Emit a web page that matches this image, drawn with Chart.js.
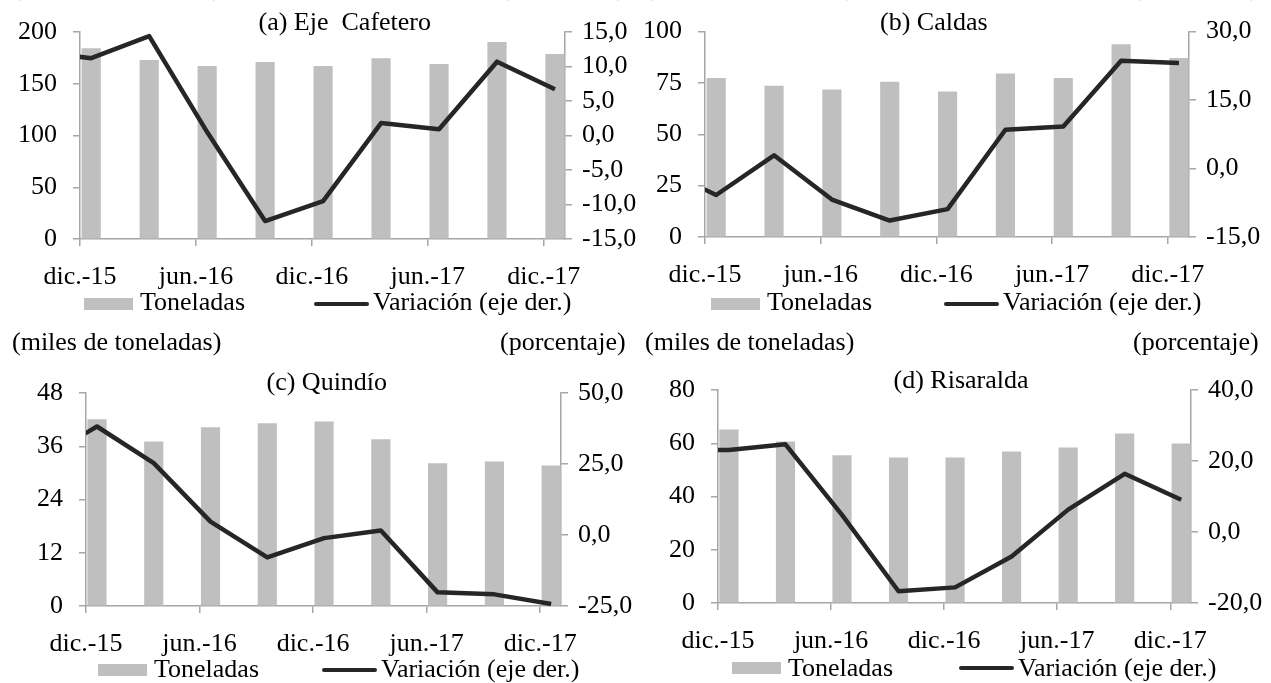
<!DOCTYPE html>
<html>
<head>
<meta charset="utf-8">
<script src="https://cdn.jsdelivr.net/npm/chart.js@4.4.1/dist/chart.umd.min.js"></script>
<style>
  html, body { margin: 0; padding: 0; background: #fff; }
  body { width: 1271px; height: 683px; position: relative; overflow: hidden;
         font-family: "Liberation Serif", "Times New Roman", serif; color: #000; }
  canvas { position: absolute; }
  .txt { position: absolute; font-size: 26px; line-height: 26px; white-space: pre; }
  .box { position: absolute; background: #bfbfbf; }
  .lin { position: absolute; background: #262626; border-radius: 2px; }
</style>
</head>
<body>
<script>
// ---------- DATA ----------
const quarters = ['dic.-15','mar.-16','jun.-16','sep.-16','dic.-16','mar.-17','jun.-17','sep.-17','dic.-17'];
const xTickLabels = ['dic.-15','jun.-16','dic.-16','jun.-17','dic.-17'];

const titles = ['(a) Eje  Cafetero', '(b) Caldas', '(c) Quindío', '(d) Risaralda'];
const seriesNames = ['Toneladas', 'Variación (eje der.)'];
const unitLeft = '(miles de toneladas)';
const unitRight = '(porcentaje)';

const tonEje   = [183.9, 172.6, 166.8, 170.6, 166.8, 174.2, 168.7, 190.0, 178.4];
const varEje   = [11.2, 14.4, 0.5, -12.4, -9.5, 1.8, 0.9, 10.7, 6.7];
const varEjePrev = 12.2;   // sep.-15 (off-axis, clipped)

const tonCaldas = [77.3, 73.5, 71.7, 75.4, 70.7, 79.4, 77.3, 93.7, 87.0];
const varCaldas = [-5.8, 2.9, -6.8, -11.4, -8.9, 8.5, 9.2, 23.6, 23.1];
const varCaldasPrev = 0.3;

const tonQuindio = [42.0, 37.0, 40.2, 41.1, 41.5, 37.5, 32.1, 32.5, 31.6];
const varQuindio = [38.2, 25.3, 4.7, -7.9, -1.1, 1.6, -20.2, -20.9, -24.3];
const varQuindioPrev = 26.4;

const tonRisaralda = [65.0, 60.5, 55.4, 54.5, 54.5, 56.8, 58.3, 63.5, 59.8];
const varRisaralda = [23.1, 24.7, 4.8, -16.7, -15.6, -6.9, 6.3, 16.4, 9.1];
const varRisaraldaPrev = 23.0;

// axis ranges: [min, max, step]
const leftTicks  = [[0, 200, 50], [0, 100, 25], [0, 48, 12], [0, 80, 20]];
const rightTicks = [[-15, 15, 5], [-15, 30, 15], [-25, 50, 25], [-20, 40, 20]];

// ---------- LAYOUT (page pixels) ----------
const panels = [
  { ton: tonEje, vr: varEje, prev: varEjePrev,
    canvas: [0, 0, 650, 330], area: [80, 32, 565, 239],
    title: [345, 31], xlabTop: 262, legY: 304, legBase: 311, legX: [84, 314],
    hdr: [12, 626, -4] },
  { ton: tonCaldas, vr: varCaldas, prev: varCaldasPrev,
    canvas: [635, 0, 636, 330], area: [705, 30, 1189, 237],
    title: [934, 31], xlabTop: 260, legY: 304, legBase: 311, legX: [711, 944],
    hdr: [645, 1259, -4] },
  { ton: tonQuindio, vr: varQuindio, prev: varQuindioPrev,
    canvas: [0, 330, 650, 353], area: [86, 393, 561, 606],
    title: [327, 391], xlabTop: 629, legY: 670, legBase: 678, legX: [98, 322],
    hdr: [12, 626, 351] },
  { ton: tonRisaralda, vr: varRisaralda, prev: varRisaraldaPrev,
    canvas: [635, 330, 636, 353], area: [718, 390, 1191, 603],
    title: [961, 389], xlabTop: 626, legY: 668, legBase: 677, legX: [732, 959],
    hdr: [645, 1259, 351] }
];

const FS = 26;
const MONTHS_PER_Q = 3, MID = 0.58, XMAX = 25.1;
const AXIS_COL = '#a6a6a6';
const fmtPct = v => v.toFixed(1).replace('.', ',');

Chart.defaults.font.family = '"Liberation Serif", "Times New Roman", serif';
Chart.defaults.font.size = FS;
Chart.defaults.color = '#000';

function addText(str, x, baseline, align) {
  const d = document.createElement('div');
  d.className = 'txt';
  d.textContent = str;
  d.style.top = (baseline - 0.8375 * FS) + 'px';
  document.body.appendChild(d);
  if (align === 'center') d.style.left = (x - d.offsetWidth / 2) + 'px';
  else if (align === 'right') d.style.left = (x - d.offsetWidth) + 'px';
  else d.style.left = x + 'px';
  return d;
}

panels.forEach((p, k) => {
  const [cx, cy, cw, ch] = p.canvas;
  const [L, T, R, B] = p.area;
  const cv = document.createElement('canvas');
  cv.width = cw; cv.height = ch;
  cv.style.left = cx + 'px'; cv.style.top = cy + 'px';
  cv.style.width = cw + 'px'; cv.style.height = ch + 'px';
  document.body.appendChild(cv);

  const barData = quarters.map((q, i) => ({ x: i * MONTHS_PER_Q + MID, y: p.ton[i] }));
  const lineData = [{ x: -MONTHS_PER_Q + MID, y: p.prev }]
    .concat(quarters.map((q, i) => ({ x: i * MONTHS_PER_Q + MID, y: p.vr[i] })));

  const [lmin, lmax, lstep] = leftTicks[k];
  const [rmin, rmax, rstep] = rightTicks[k];
  const TL = 7;

  new Chart(cv, {
    type: 'bar',
    data: {
      datasets: [
        { type: 'line', label: seriesNames[1], data: lineData, yAxisID: 'y1',
          borderColor: '#262626', borderWidth: 4.5, pointRadius: 0, tension: 0,
          borderJoinStyle: 'round', clip: 0, order: 0 },
        { type: 'bar', label: seriesNames[0], data: barData, yAxisID: 'y',
          backgroundColor: '#bfbfbf', borderWidth: 0, barThickness: 18.5, order: 1 }
      ]
    },
    options: {
      responsive: false, animation: false, devicePixelRatio: 1,
      layout: { padding: { top: T - cy, left: 0, right: 0, bottom: 0 } },
      plugins: { legend: { display: false }, tooltip: { enabled: false } },
      scales: {
        x: {
          type: 'linear', min: 0, max: XMAX, offset: false,
          afterBuildTicks: s => { s.ticks = xTickLabels.map((t, i) => ({ value: i * 6 })); },
          afterFit: s => { s.height = cy + ch - B; },
          ticks: { callback: (v) => xTickLabels[Math.round(v / 6)], maxRotation: 0,
                   autoSkip: false, padding: p.xlabTop - B - TL },
          grid: { offset: false, drawOnChartArea: false, drawTicks: true, tickLength: TL, color: AXIS_COL, lineWidth: 1.5 },
          border: { display: true, color: AXIS_COL, width: 1.5 }
        },
        y: {
          position: 'left', min: lmin, max: lmax,
          afterBuildTicks: s => { const t = []; for (let v = lmin; v <= lmax + 1e-9; v += lstep) t.push({ value: v }); s.ticks = t; },
          afterFit: s => { s.width = L - cx; },
          ticks: { padding: 16 },
          grid: { drawOnChartArea: false, drawTicks: true, tickLength: TL, color: AXIS_COL, lineWidth: 1.5 },
          border: { display: true, color: AXIS_COL, width: 1.5 }
        },
        y1: {
          position: 'right', min: rmin, max: rmax,
          afterBuildTicks: s => { const t = []; for (let v = rmin; v <= rmax + 1e-9; v += rstep) t.push({ value: v }); s.ticks = t; },
          afterFit: s => { s.width = cx + cw - R; },
          ticks: { padding: 10, callback: v => fmtPct(v) },
          grid: { drawOnChartArea: false, drawTicks: true, tickLength: TL, color: AXIS_COL, lineWidth: 1.5 },
          border: { display: true, color: AXIS_COL, width: 1.5 }
        }
      }
    }
  });

  // title
  addText(titles[k], p.title[0], p.title[1], 'center');
  // unit headers
  addText(unitLeft, p.hdr[0], p.hdr[2], 'left');
  addText(unitRight, p.hdr[1], p.hdr[2], 'right');

  // legend
  const bx = document.createElement('div');
  bx.className = 'box';
  bx.style.left = p.legX[0] + 'px'; bx.style.top = (p.legY - 6) + 'px';
  bx.style.width = '49px'; bx.style.height = '12px';
  document.body.appendChild(bx);
  addText(seriesNames[0], p.legX[0] + 56, p.legBase, 'left');
  const ln = document.createElement('div');
  ln.className = 'lin';
  ln.style.left = p.legX[1] + 'px'; ln.style.top = (p.legY - 2.25) + 'px';
  ln.style.width = '55px'; ln.style.height = '4.5px';
  document.body.appendChild(ln);
  addText(seriesNames[1], p.legX[1] + 59, p.legBase, 'left');
});
</script>
</body>
</html>
